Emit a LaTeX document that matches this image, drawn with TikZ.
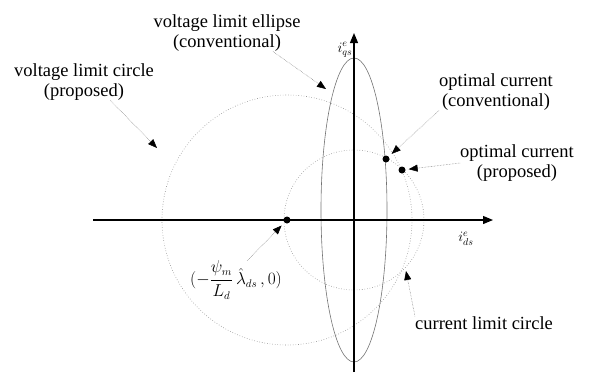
\documentclass[tikz,border=0pt]{standalone}
\usepackage{fontspec}
\setmainfont{Liberation Serif}
\usetikzlibrary{arrows.meta}

\tikzset{
  limitline/.style={black!45, line width=0.6pt, dotted},
  ellipseline/.style={black!55, line width=0.6pt},
  axisline/.style={black, line width=1.2pt, -{Triangle[length=10pt,width=8pt]}},
  pointer/.style={black!55, line width=0.5pt, densely dotted, -{Triangle[black,length=9pt,width=7pt]}},
  caption/.style={font=\fontsize{18.5}{20}\selectfont, align=center, inner sep=0pt},
  axislabel/.style={font=\fontsize{14}{16}\selectfont, inner sep=0pt},
  oppoint/.style={circle, fill=black, inner sep=0pt, minimum size=7pt},
}

\begin{document}
\begin{tikzpicture}
% picture laid out in pixel units, y running down
\begin{scope}[x=1pt, y=-1pt]
  \useasboundingbox (0,0) rectangle (590,373);
  % Limit curves
  \draw[limitline] (287,220) circle [radius=125];
  \draw[limitline] (354,220) circle [radius=70];
  \draw[ellipseline] (354,210) ellipse [x radius=33, y radius=152];
  % Axes
  \coordinate (dsstart) at (93,220);
  \coordinate (dsend) at (493,220);
  \coordinate (qsstart) at (354,372);
  \coordinate (qsend) at (354,33);
  \draw[axisline] (dsstart) -- (dsend);
  \draw[axisline] (qsstart) -- (qsend);
  \node[axislabel] (qslbl) at (345,50) {$i_{qs}^{e}$};
  \node[axislabel] (dslbl) at (466,239) {$i_{ds}^{e}$};
  % Points
  \node[oppoint] (center) at (287,220) {};
  \node[oppoint] (convpt) at (386,159) {};
  \node[oppoint] (proppt) at (402,170) {};
  \coordinate (vcirc) at (157,148);
  \coordinate (vellip) at (326,89);
  \coordinate (ilim) at (406,271);
  % Labels
  \node[caption] (ellipselbl) at (227,33) {voltage limit ellipse\\(conventional)};
  \node[caption] (circlelbl) at (84,82) {voltage limit circle\\(proposed)};
  \node[caption] (convlbl) at (496,92) {optimal current\\(conventional)};
  \node[caption] (proplbl) at (517,163) {optimal current\\(proposed)};
  \node[caption] (ilimlbl) at (484,323) {current limit circle};
  \node[axislabel, font=\fontsize{16}{18}\selectfont] (centerlbl) at (236,280)
    {$\displaystyle(-\frac{\psi_m}{L_d}\,\hat{\lambda}_{ds}\,,0)$};
  % Pointers
  \draw[pointer] (circlelbl.-35) -- (vcirc);
  \draw[pointer] (ellipselbl.-22) -- (vellip);
  \draw[pointer, shorten >=4pt] (convlbl.south west) -- (convpt);
  \draw[pointer, shorten >=3pt] (proplbl.west) -- (proppt);
  \draw[pointer, shorten >=4pt] (centerlbl.60) -- (center);
  \draw[pointer] (ilimlbl.north west) -- (ilim);
\end{scope}
\end{tikzpicture}
\end{document}
